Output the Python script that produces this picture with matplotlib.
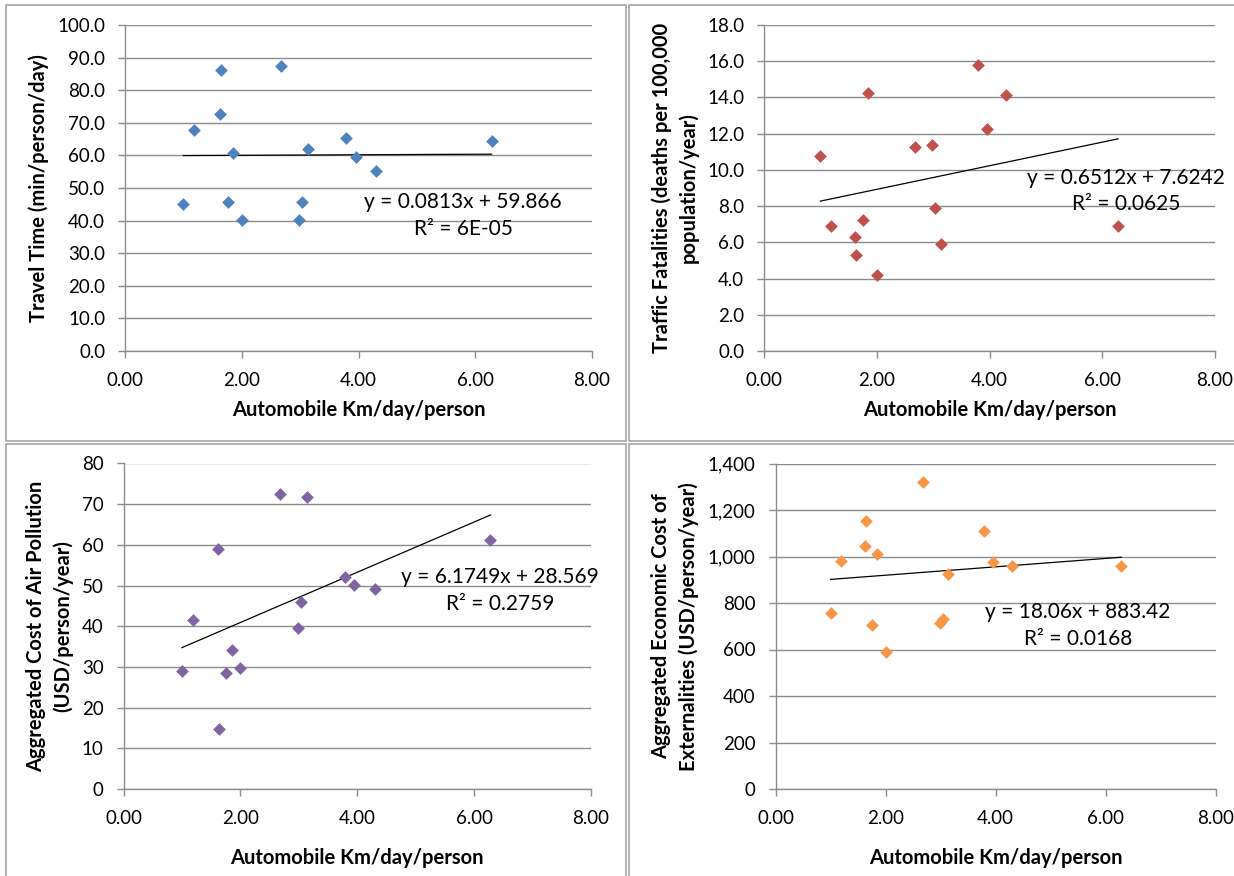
import matplotlib
matplotlib.use("Agg")
import matplotlib.pyplot as plt
from matplotlib.patches import Rectangle
from matplotlib.ticker import FuncFormatter

plt.rcParams["font.family"] = ["Lato", "DejaVu Sans"]

# ── data ───────────────────────────────────────────────
x_km = [1.00, 1.19, 1.62, 1.64, 1.76, 1.85, 2.00, 2.68, 2.98, 3.04, 3.14, 3.79, 3.95, 4.30, 6.28]

travel_time = [45.0, 67.7, 72.6, 86.3, 45.8, 60.7, 40.2, 87.3, 40.1, 45.7, 62.0, 65.4, 59.5, 55.3, 64.4]
fatalities = [10.74, 6.89, 6.29, 5.31, 7.26, 14.27, 4.17, 11.25, 11.35, 7.89, 5.92, 15.78, 12.25, 14.14, 6.88]
air_pollution = [29.0, 41.6, 58.9, 14.7, 28.4, 34.1, 29.7, 72.6, 39.6, 45.9, 71.8, 52.2, 50.1, 49.1, 61.2]
externalities = [756, 979, 1047, 1153, 705, 1011, 589, 1322, 715, 731, 925, 1111, 978, 959, 959]

slopes = [0.0813, 0.6512, 6.1749, 18.06]
intercepts = [59.866, 7.6242, 28.569, 883.42]
eq_labels = ["y = 0.0813x + 59.866", "y = 0.6512x + 7.6242", "y = 6.1749x + 28.569", "y = 18.06x + 883.42"]
r2_labels = ["R² = 6E-05", "R² = 0.0625", "R² = 0.2759", "R² = 0.0168"]

y_labels = ["Travel Time (min/person/day)",
            "Traffic Fatalities (deaths per 100,000\npopulation/year)",
            "Aggregated Cost of Air Pollution\n(USD/person/year)",
            "Aggregated Economic Cost of\nExternalities (USD/person/year)"]
x_label = "Automobile Km/day/person"
colors = ["#4F81BD", "#C0504D", "#8064A2", "#F79646"]
y_max = [100, 18, 80, 1400]
y_step = [10, 2, 10, 200]
y_fmt = ["{:.1f}", "{:.1f}", "{:.0f}", "{:,.0f}"]
series = [travel_time, fatalities, air_pollution, externalities]

# ── layout (pixels) ───────────────────────────────────
W, H = 1234, 876
# left, right, top, bottom of plot areas
plot_px = [(125, 592, 25, 351), (764, 1215, 25, 351),
           (123.5, 591, 463.5, 789), (775.5, 1216, 463.5, 789)]
# chart borders
border_px = [(6, 626, 5, 441), (629, 1240, 5, 441),
             (6, 626, 444, 880), (629, 1240, 444, 880)]
ylabel_x = [39, 675, 50, 675]
xlabel_y = [410, 410, 858, 858]
eq_pos = [(463, 202, 229), (1126, 178, 204), (500, 577, 604), (1078, 612, 639)]

fig = plt.figure(figsize=(W / 100, H / 100), dpi=100)
grid_col = "#8C8C8C"

for (l, r, t, b) in border_px:
    fig.patches.append(Rectangle((l / W, 1 - b / H), (r - l) / W, (b - t) / H,
                                 transform=fig.transFigure, fill=False,
                                 edgecolor="#A6A6A6", linewidth=1.2))

for i in range(4):
    l, r, t, b = plot_px[i]
    ax = fig.add_axes([l / W, 1 - b / H, (r - l) / W, (b - t) / H])
    ax.scatter(x_km, series[i], marker="D", s=42, color=colors[i], zorder=3, linewidths=0)

    x0, x1 = min(x_km), max(x_km)
    ax.plot([x0, x1], [slopes[i] * x0 + intercepts[i], slopes[i] * x1 + intercepts[i]],
            color="black", linewidth=0.9, zorder=2)

    ax.set_xlim(0, 8)
    ax.set_ylim(0, y_max[i])
    ax.set_xticks([0, 2, 4, 6, 8])
    ax.set_yticks([k * y_step[i] for k in range(int(y_max[i] / y_step[i]) + 1)])
    ax.xaxis.set_major_formatter(FuncFormatter(lambda v, p: f"{v:.2f}"))
    fmt = y_fmt[i]
    ax.yaxis.set_major_formatter(FuncFormatter(lambda v, p, fmt=fmt: fmt.format(v)))
    ax.yaxis.grid(True, color=grid_col, linewidth=1.0)
    ax.set_axisbelow(True)
    for side in ["top", "right"]:
        ax.spines[side].set_visible(False)
    for side in ["left", "bottom"]:
        ax.spines[side].set_color(grid_col)
        ax.spines[side].set_linewidth(1.0)
    ax.tick_params(axis="both", colors=grid_col, labelcolor="black", labelsize=13.5,
                   length=5.3, width=1.0)
    ax.tick_params(axis="y", pad=9)
    ax.tick_params(axis="x", pad=10)

    ax.set_xlabel(x_label, fontsize=14.5, fontweight="bold")
    ax.xaxis.set_label_coords(0.5, (b - xlabel_y[i]) / (b - t))
    ax.xaxis.label.set_va("center")
    ax.set_ylabel(y_labels[i], fontsize=14.5, fontweight="bold", linespacing=1.4)
    ax.yaxis.set_label_coords((ylabel_x[i] - l) / (r - l), 0.5)
    ax.yaxis.label.set_va("center")

    ex, ey1, ey2 = eq_pos[i]
    fig.text(ex / W, 1 - ey1 / H, eq_labels[i], fontsize=15, ha="center", va="center")
    fig.text(ex / W, 1 - ey2 / H, r2_labels[i], fontsize=15, ha="center", va="center")

fig.savefig("out.png", dpi=100)
